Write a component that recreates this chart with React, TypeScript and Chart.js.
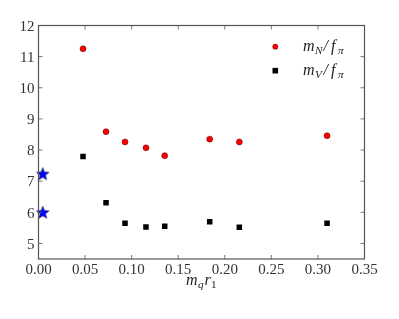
import React, { useEffect, useRef } from "react";
import { Chart, registerables } from "chart.js";

Chart.register(...registerables);

const xValues = [0.0478, 0.0725, 0.0929, 0.1154, 0.1355, 0.1838, 0.2156, 0.3098];
const mNValues = [11.25, 8.59, 8.26, 8.07, 7.82, 8.35, 8.26, 8.46];
const mVValues = [7.79, 6.31, 5.645, 5.53, 5.55, 5.7, 5.52, 5.645];
const starX = [0.0045, 0.0045];
const starY = [7.22, 5.98];
const xTicks = [0, 0.05, 0.1, 0.15, 0.2, 0.25, 0.3, 0.35];
const yTicks = [5, 6, 7, 8, 9, 10, 11, 12];
const xTickLabels = ["0.00", "0.05", "0.10", "0.15", "0.20", "0.25", "0.30", "0.35"];
const yTickLabels = ["5", "6", "7", "8", "9", "10", "11", "12"];

const SERIF = "'Liberation Serif', 'DejaVu Serif', serif";

type Part = { t: string; dx: number; sub?: boolean; upright?: boolean };

function drawMath(ctx: CanvasRenderingContext2D, parts: Part[], x: number, y: number, size: number) {
  ctx.textBaseline = "alphabetic";
  ctx.textAlign = "left";
  for (const p of parts) {
    const s = p.sub ? size * 0.7 : size;
    ctx.font = `${p.upright ? "" : "italic "}${s}px ${SERIF}`;
    ctx.fillText(p.t, x + p.dx, p.sub ? y + size * 0.2 : y);
  }
}

function makeStar(r: number): HTMLCanvasElement {
  const c = document.createElement("canvas");
  const s = Math.ceil(r * 2 + 4);
  c.width = s;
  c.height = s;
  const ctx = c.getContext("2d")!;
  const cx = s / 2, cy = s / 2;
  ctx.beginPath();
  for (let i = 0; i < 10; i++) {
    const rad = i % 2 === 0 ? r : r * 0.42;
    const a = -Math.PI / 2 + (i * Math.PI) / 5;
    const px = cx + rad * Math.cos(a), py = cy + rad * Math.sin(a);
    if (i === 0) ctx.moveTo(px, py);
    else ctx.lineTo(px, py);
  }
  ctx.closePath();
  ctx.fillStyle = "#0000ff";
  ctx.fill();
  ctx.lineWidth = 0.6;
  ctx.strokeStyle = "#000044";
  ctx.stroke();
  return c;
}

const framePlugin = {
  id: "frameTicks",
  afterDraw(chart: any) {
    const { ctx, chartArea } = chart;
    const xs = chart.scales.x, ys = chart.scales.y;
    ctx.save();
    ctx.strokeStyle = "#555";
    ctx.lineWidth = 1.2;
    ctx.strokeRect(chartArea.left, chartArea.top, chartArea.right - chartArea.left, chartArea.bottom - chartArea.top);
    ctx.lineWidth = 0.8;
    ctx.beginPath();
    for (const v of xTicks) {
      const px = xs.getPixelForValue(v);
      ctx.moveTo(px, chartArea.bottom);
      ctx.lineTo(px, chartArea.bottom - 4);
      ctx.moveTo(px, chartArea.top);
      ctx.lineTo(px, chartArea.top + 4);
    }
    for (const v of yTicks) {
      const py = ys.getPixelForValue(v);
      ctx.moveTo(chartArea.left, py);
      ctx.lineTo(chartArea.left + 4, py);
      ctx.moveTo(chartArea.right, py);
      ctx.lineTo(chartArea.right - 4, py);
    }
    ctx.stroke();

    // tick labels
    ctx.fillStyle = "#333";
    ctx.font = `15px ${SERIF}`;
    ctx.textBaseline = "alphabetic";
    ctx.textAlign = "center";
    xTicks.forEach((v, i) => {
      ctx.fillText(xTickLabels[i], xs.getPixelForValue(v), chartArea.bottom + 15);
    });
    ctx.textAlign = "right";
    yTicks.forEach((v, i) => {
      ctx.fillText(yTickLabels[i], chartArea.left - 4, ys.getPixelForValue(v) + 5.3);
    });

    // legend
    ctx.fillStyle = "#ff0000";
    ctx.strokeStyle = "#550000";
    ctx.lineWidth = 0.5;
    ctx.beginPath();
    ctx.arc(275.3, 46.7, 2.6, 0, Math.PI * 2);
    ctx.fill();
    ctx.stroke();
    ctx.fillStyle = "#000";
    ctx.fillRect(272.5, 67.9, 5.6, 5.6);
    ctx.fillStyle = "#222";
    drawMath(
      ctx,
      [
        { t: "m", dx: 0 },
        { t: "N", dx: 12, sub: true },
        { t: "/", dx: 20.5 },
        { t: "f", dx: 28 },
        { t: "π", dx: 35, sub: true },
      ],
      303,
      50.5,
      16
    );
    drawMath(
      ctx,
      [
        { t: "m", dx: 0 },
        { t: "V", dx: 12, sub: true },
        { t: "/", dx: 20.5 },
        { t: "f", dx: 28 },
        { t: "π", dx: 35, sub: true },
      ],
      303,
      75,
      16
    );

    // x axis title
    drawMath(
      ctx,
      [
        { t: "m", dx: 0 },
        { t: "q", dx: 12, sub: true },
        { t: "r", dx: 18.5 },
        { t: "1", dx: 25, sub: true, upright: true },
      ],
      186,
      285,
      16
    );
    ctx.restore();
  },
};

export default function App() {
  const ref = useRef<HTMLCanvasElement>(null);
  useEffect(() => {
    document.body.style.margin = "0";
    const star = makeStar(6.6);
    const chart = new Chart(ref.current!, {
      type: "scatter",
      data: {
        datasets: [
          {
            label: "mN",
            data: xValues.map((x, i) => ({ x, y: mNValues[i] })),
            pointStyle: "circle",
            pointRadius: 3,
            backgroundColor: "#ff0000",
            borderColor: "#550000",
            borderWidth: 0.5,
          },
          {
            label: "mV",
            data: xValues.map((x, i) => ({ x, y: mVValues[i] })),
            pointStyle: "rect",
            pointRadius: 3.9,
            backgroundColor: "#000000",
            borderColor: "#000000",
            borderWidth: 0,
          },
          {
            label: "star",
            data: starX.map((x, i) => ({ x, y: starY[i] })),
            pointStyle: star as any,
            pointRadius: 7,
            clip: false as any,
          },
        ],
      },
      options: {
        animation: false,
        responsive: false,
        events: [],
        layout: { padding: { top: 25.5, right: 34.5, left: 0, bottom: 0 } },
        plugins: { legend: { display: false }, tooltip: { enabled: false } },
        scales: {
          x: {
            type: "linear",
            min: 0,
            max: 0.35,
            grid: { display: false },
            border: { display: false },
            afterBuildTicks: (s: any) => {
              s.ticks = xTicks.map((v) => ({ value: v }));
            },
            afterFit: (s: any) => {
              s.height = 60;
            },
            ticks: { display: false },
          },
          y: {
            type: "linear",
            min: 4.5,
            max: 12,
            grid: { display: false },
            border: { display: false },
            afterBuildTicks: (s: any) => {
              s.ticks = yTicks.map((v) => ({ value: v }));
            },
            afterFit: (s: any) => {
              s.width = 38.5;
            },
            ticks: { display: false },
          },
        },
      },
      plugins: [framePlugin],
    });
    return () => chart.destroy();
  }, []);
  return (
    <div style={{ position: "absolute", left: 0, top: 0, width: 399, height: 319 }}>
      <canvas ref={ref} width={399} height={319} style={{ width: 399, height: 319 }} />
    </div>
  );
}
